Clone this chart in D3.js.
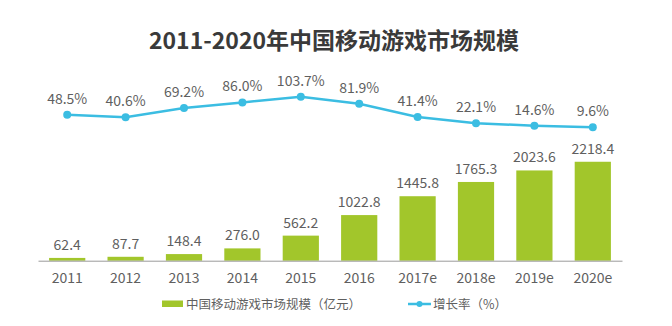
<!DOCTYPE html>
<html><head><meta charset="utf-8">
<script src="https://cdn.jsdelivr.net/npm/d3@7"></script>
<style>
html,body{margin:0;padding:0;background:#fff;}
svg{display:block;font-family:"Noto Sans CJK SC","Noto Sans",sans-serif;}
</style></head>
<body><svg id="chart" width="672" height="326"></svg>
<script>
const categories = ["2011","2012","2013","2014","2015","2016","2017e","2018e","2019e","2020e"];
const marketSize = [62.4,87.7,148.4,276.0,562.2,1022.8,1445.8,1765.3,2023.6,2218.4];
const growthRate = [48.5,40.6,69.2,86.0,103.7,81.9,41.4,22.1,14.6,9.6];
const title = "2011-2020年中国移动游戏市场规模";
const legendBar = "中国移动游戏市场规模（亿元）";
const legendLine = "增长率（%）";

const svg = d3.select("#chart");
const barColor = "#a2c62b", lineColor = "#3bbde2", textColor = "#5f5f5f";
const baseY = 260.7;

const x = d3.scaleBand().domain(categories).range([38, 622]).paddingInner(0.38).paddingOuter(0.19);
const y = d3.scaleLinear().domain([0, 2500]).range([baseY, baseY - 111.5]);
const y2 = d3.scaleLinear().domain([0, 100]).range([130.4, 97.9]);

svg.append("text").attr("x", 334).attr("y", 49).attr("text-anchor", "middle")
  .attr("font-size", 23).attr("font-weight", "bold").attr("fill", "#3a3a3a").text(title);

// bars
svg.selectAll("rect.bar").data(marketSize).join("rect").attr("class","bar")
  .attr("x", (d,i) => x(categories[i])).attr("width", x.bandwidth())
  .attr("y", d => y(d)).attr("height", d => baseY - y(d)).attr("fill", barColor);

svg.selectAll("text.bl").data(marketSize).join("text").attr("class","bl")
  .attr("x", (d,i) => x(categories[i]) + x.bandwidth()/2).attr("y", d => y(d) - 8)
  .attr("text-anchor","middle").attr("font-size", 14).attr("fill", textColor)
  .text(d => d.toFixed(1));

// x axis
const xAxis = d3.axisBottom(x).tickSize(0).tickPadding(12);
const ax = svg.append("g").attr("transform", `translate(0,${baseY})`).call(xAxis);
ax.select(".domain").attr("stroke", "#9a9a9a").attr("stroke-width", 1);
ax.selectAll("text").attr("font-size", 14).attr("fill", textColor)
  .attr("font-family", '"Noto Sans CJK SC","Noto Sans",sans-serif');

// line
const line = d3.line().x((d,i) => x(categories[i]) + x.bandwidth()/2).y(d => y2(d));
svg.append("path").datum(growthRate).attr("d", line).attr("fill","none")
  .attr("stroke", lineColor).attr("stroke-width", 2.5);
svg.selectAll("circle.pt").data(growthRate).join("circle").attr("class","pt")
  .attr("cx", (d,i) => x(categories[i]) + x.bandwidth()/2).attr("cy", d => y2(d))
  .attr("r", 4).attr("fill", lineColor);
svg.selectAll("text.ll").data(growthRate).join("text").attr("class","ll")
  .attr("x", (d,i) => x(categories[i]) + x.bandwidth()/2).attr("y", d => y2(d) - 11)
  .attr("text-anchor","middle").attr("font-size", 14).attr("fill", textColor)
  .text(d => d.toFixed(1) + "%");

// legend
const lg = svg.append("g");
lg.append("rect").attr("x", 162).attr("y", 300.5).attr("width", 21).attr("height", 6.5).attr("fill", barColor);
lg.append("text").attr("x", 186).attr("y", 308.5).attr("font-size", 12.5).attr("fill", textColor).text(legendBar);
lg.append("line").attr("x1", 408).attr("x2", 431).attr("y1", 304).attr("y2", 304)
  .attr("stroke", lineColor).attr("stroke-width", 2.5);
lg.append("circle").attr("cx", 419.5).attr("cy", 304).attr("r", 3).attr("fill", lineColor);
lg.append("text").attr("x", 433).attr("y", 308.5).attr("font-size", 12.5).attr("fill", textColor).text(legendLine);
</script></body></html>
